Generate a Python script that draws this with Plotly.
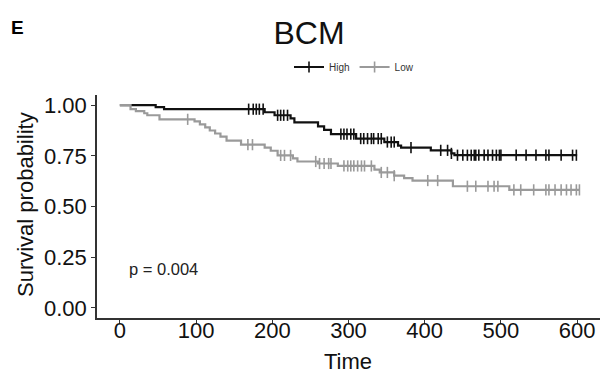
import numpy as np
import plotly.graph_objects as go

# ---- data ----
high_times = [0, 47, 58, 190, 203, 224, 229, 260, 268, 277, 310, 347, 365, 369, 408, 435, 439, 600]
high_surv = [1.0, 0.99, 0.98, 0.965, 0.95, 0.935, 0.915, 0.895, 0.878, 0.857, 0.835, 0.818, 0.80, 0.79, 0.777, 0.762, 0.753, 0.753]
high_censor = [169, 175, 179, 183, 188, 207, 211, 215, 220, 290, 294, 298, 303, 307,
               316, 320, 325, 330, 333, 339, 343, 351, 356, 360, 382, 421, 430, 435,
               443, 450, 456, 461, 465, 467, 471, 478, 483, 489, 494, 498, 500,
               520, 533, 546, 559, 563, 579, 594, 599]

low_times = [0, 14, 21, 32, 36, 52, 98, 105, 112, 118, 125, 132, 140, 159, 190, 198, 207,
             227, 233, 260, 286, 334, 341, 360, 373, 384, 437, 511, 603]
low_surv = [1.0, 0.98, 0.97, 0.96, 0.95, 0.93, 0.92, 0.905, 0.89, 0.875, 0.86, 0.845, 0.825,
            0.805, 0.79, 0.775, 0.752, 0.737, 0.722, 0.712, 0.70, 0.682, 0.668, 0.652, 0.64,
            0.628, 0.60, 0.582, 0.582]
low_censor = [89, 168, 174, 211, 216, 224, 257, 262, 268, 274, 277, 294, 299, 303, 307,
              312, 317, 321, 330, 343, 351, 360, 404, 417, 456, 467, 483, 491, 496,
              517, 526, 543, 559, 563, 571, 579, 586, 592, 599, 603]

p_text = "p = 0.004"
x_ticks = [0, 100, 200, 300, 400, 500, 600]
y_ticks = [0, 0.25, 0.5, 0.75, 1.0]
y_ticklabels = ["0.00", "0.25", "0.50", "0.75", "1.00"]


def step_at(times, surv, t):
    idx = np.searchsorted(np.array(times), t, side="right") - 1
    return [surv[i] for i in idx]


HIGH_C = "#111111"
LOW_C = "#9a9a9a"
FONT = "Liberation Sans, Arial"

W, H = 605, 382
L, R, T, B = 97, 5, 95, 64
PW, PH = W - L - R, H - T - B


def px(xp):
    return (xp - L) / PW


def py(yp):
    return (H - B - yp) / PH


fig = go.Figure()
for name, times, surv, cens, col in [
    ("High", high_times, high_surv, high_censor, HIGH_C),
    ("Low", low_times, low_surv, low_censor, LOW_C),
]:
    fig.add_trace(go.Scatter(
        x=times, y=surv, mode="lines", line=dict(color=col, width=2.2, shape="hv"),
        name=name, legendgroup=name, showlegend=False, hoverinfo="skip"))
    fig.add_trace(go.Scatter(
        x=cens, y=step_at(times, surv, cens), mode="markers",
        marker=dict(symbol="line-ns", size=8, line=dict(color=col, width=1.6)),
        name=name, legendgroup=name, showlegend=False))
    fig.add_trace(go.Scatter(
        x=[None], y=[None], mode="lines+markers", name=name, legendgroup=name,
        line=dict(color=col, width=2),
        marker=dict(symbol="line-ns", size=8, line=dict(color=col, width=1.6))))

fig.add_annotation(x=9, y=0.19, xref="x", yref="y", text=p_text, showarrow=False,
                   xanchor="left", yanchor="middle",
                   font=dict(family=FONT, size=16.5, color="#222"))
fig.add_annotation(x=px(9), y=py(27), xref="paper", yref="paper", text="<b>E</b>",
                   showarrow=False, xanchor="left", yanchor="middle",
                   font=dict(family=FONT, size=19, color="#000"))
fig.add_annotation(x=px(348), y=py(361), xref="paper", yref="paper", text="Time",
                   showarrow=False, xanchor="center", yanchor="middle",
                   font=dict(family=FONT, size=22, color="#111"))
fig.add_annotation(x=px(25), y=py(205), xref="paper", yref="paper",
                   text="Survival probability", textangle=-90,
                   showarrow=False, xanchor="center", yanchor="middle",
                   font=dict(family=FONT, size=22, color="#111"))

fig.update_layout(
    width=W, height=H,
    margin=dict(l=L, r=R, t=T, b=B, autoexpand=False),
    paper_bgcolor="white", plot_bgcolor="white",
    font=dict(family=FONT, color="#000"),
    title=dict(text="BCM", x=309 / W, y=1 - 33 / H, xanchor="center", yanchor="middle",
               xref="container", yref="container",
               font=dict(size=32, color="#111")),
    legend=dict(orientation="h", x=354 / W, y=1 - 67 / H, xref="container", yref="container",
                xanchor="center", yanchor="middle",
                font=dict(size=10, color="#333"), itemwidth=30, tracegroupgap=0,
                bgcolor="rgba(0,0,0,0)"),
    xaxis=dict(range=[-30, 630], tickvals=x_ticks, ticks="outside", ticklen=4,
               tickwidth=1.2, tickcolor="#333", showline=True, linecolor="#333",
               linewidth=1.5, showgrid=False, zeroline=False, automargin=False,
               ticklabelstandoff=-12,
               tickfont=dict(size=22, color="#111")),
    yaxis=dict(range=[-0.05, 1.05], tickvals=y_ticks, ticktext=y_ticklabels,
               ticks="outside", ticklen=4, tickwidth=1.2, tickcolor="#333",
               showline=True, linecolor="#333", linewidth=1.5, showgrid=False,
               zeroline=False, automargin=False, tickfont=dict(size=22, color="#111")),
)

fig.write_html("out.html", config={"displayModeBar": False},
               post_script="document.body.style.margin='0px';")
